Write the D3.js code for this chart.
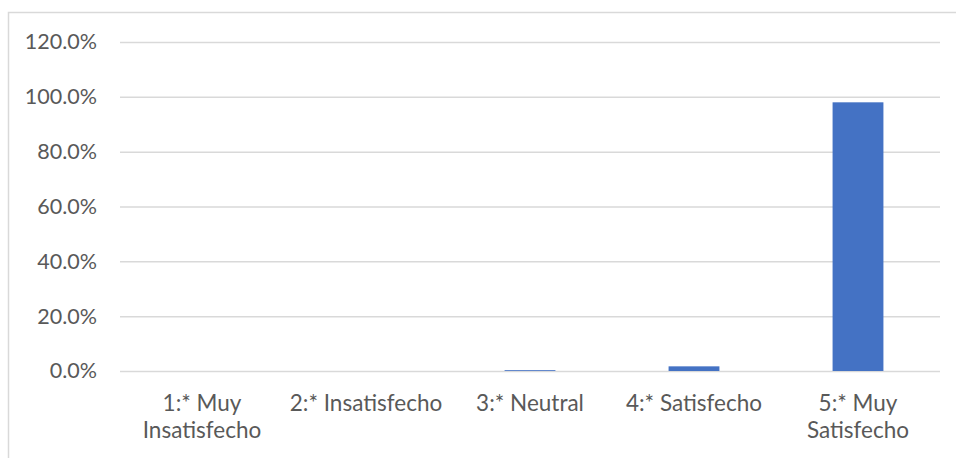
<!DOCTYPE html>
<html><head><meta charset="utf-8">
<script src="https://cdn.jsdelivr.net/npm/d3@7"></script>
<style>
html,body{margin:0;padding:0;background:#fff;}
svg{display:block;}
</style></head>
<body>
<svg id="chart" width="956" height="458"></svg>
<script>
const categories = [["1:* Muy","Insatisfecho"],["2:* Insatisfecho"],["3:* Neutral"],["4:* Satisfecho"],["5:* Muy","Satisfecho"]];
const values = [0, 0, 0.003, 0.017, 0.98];
const yTicks = [0, 0.2, 0.4, 0.6, 0.8, 1.0, 1.2];

(function(){
const svg = d3.select("#chart");
const font = "Lato, 'Open Sans', sans-serif";
const pLeft = 120, pRight = 940, pTop = 42, pBottom = 371;

svg.append("rect").attr("x",8.5).attr("y",12.5).attr("width",960).attr("height",460)
  .attr("fill","#fff").attr("stroke","#d9d9d9").attr("stroke-width",1.5);

const x = d3.scaleBand().domain(d3.range(categories.length)).range([pLeft,pRight]).padding(0);
const y = d3.scaleLinear().domain([0,1.2]).range([pBottom,pTop]);

const yAxis = d3.axisLeft(y).tickValues(yTicks).tickFormat(d3.format(".1%")).tickSize(-(pRight-pLeft)).tickPadding(23);
const gy = svg.append("g").attr("transform",`translate(${pLeft},0)`).call(yAxis);
gy.select(".domain").remove();
gy.selectAll(".tick line").attr("stroke","#d9d9d9").attr("stroke-width",1.5);
gy.selectAll(".tick text").attr("fill","#595959").style("font-family",font).style("font-size","21.5px");

const bw = x.bandwidth()*0.31;
svg.append("g").selectAll("rect").data(values).join("rect")
  .attr("x",(d,i)=>x(i)+x.bandwidth()/2-bw/2)
  .attr("width",bw)
  .attr("y",d=>y(d))
  .attr("height",d=>y(0)-y(d))
  .attr("fill","#4472C4");

const gx = svg.append("g");
categories.forEach((lines,i)=>{
  const t = gx.append("text").attr("text-anchor","middle").attr("fill","#595959")
    .style("font-family",font).style("font-size","22.5px");
  lines.forEach((ln,j)=>{
    t.append("tspan").attr("x",x(i)+x.bandwidth()/2).attr("y",411+j*27).text(ln);
  });
});
})();
</script>
</body></html>
